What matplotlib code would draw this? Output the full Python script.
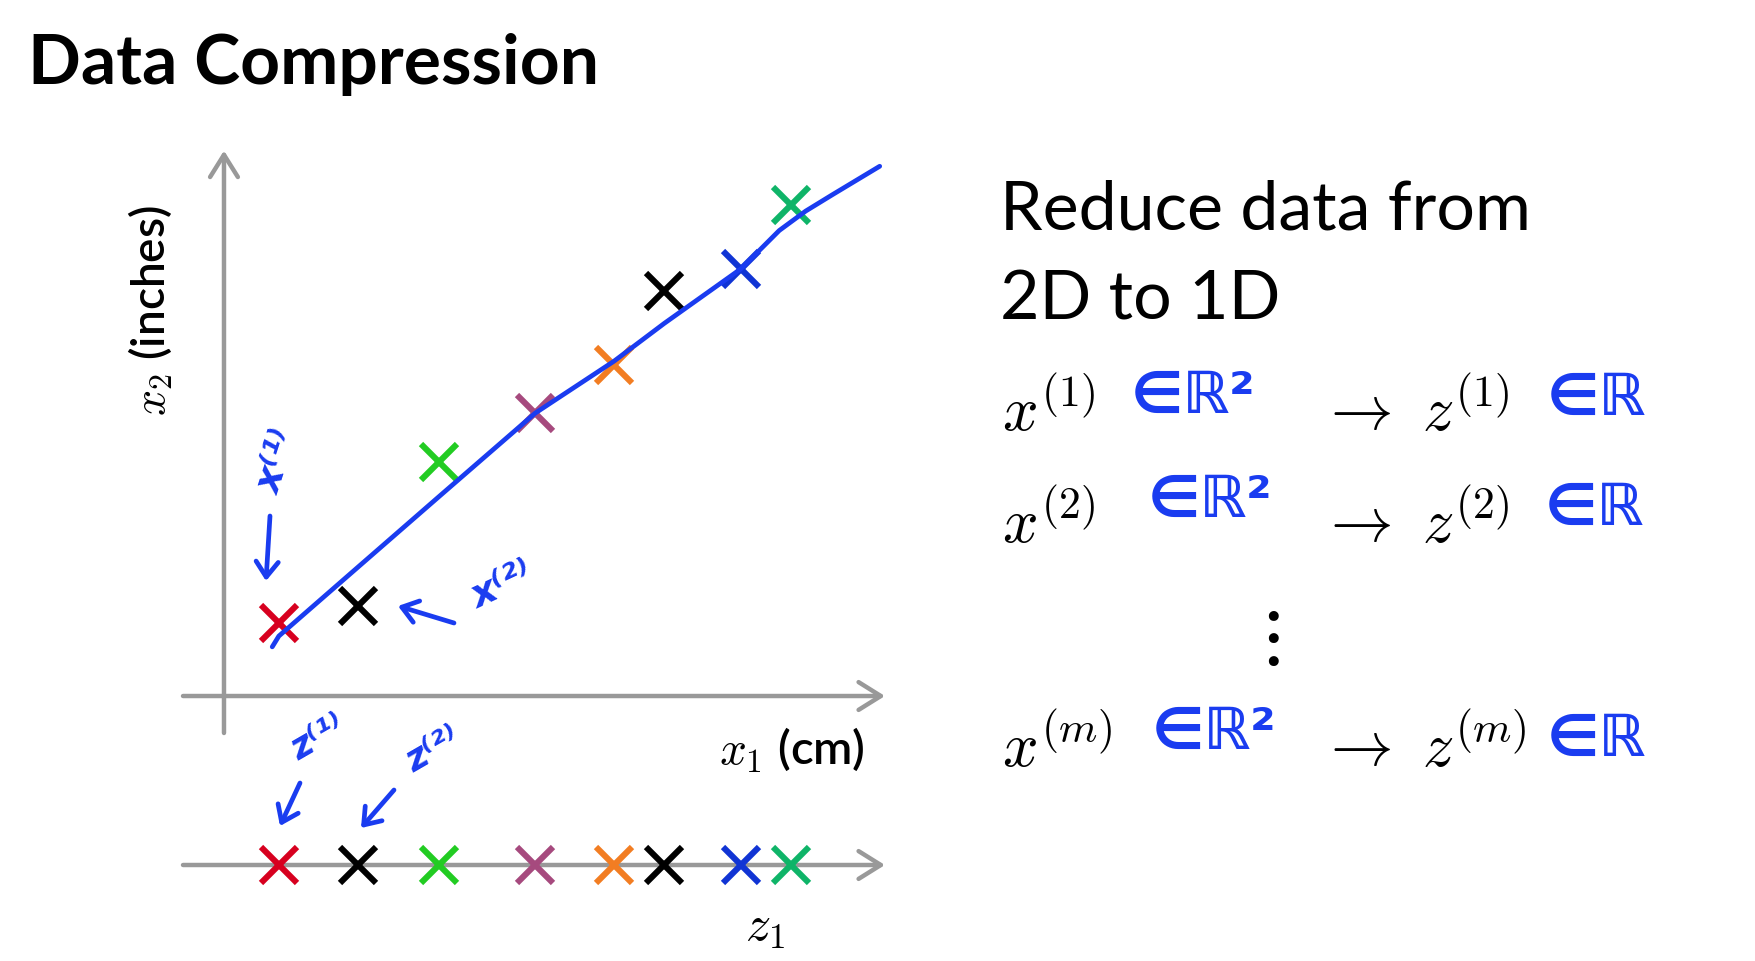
import matplotlib
matplotlib.use('Agg')
import matplotlib.pyplot as plt

plt.rcParams['mathtext.fontset'] = 'cm'

W, H = 1756, 962

# ---------------- data ----------------
x1 = [0.83, 2.03, 3.25, 4.71, 5.90, 6.66, 7.82, 8.58]
x2 = [1.35, 1.67, 4.33, 5.24, 6.13, 7.50, 7.91, 9.09]
z1 = [0.83, 2.03, 3.25, 4.71, 5.90, 6.66, 7.82, 8.58]
point_colors = ['#d7001f', '#000000', '#22cc22', '#a64a7e',
                '#f27d22', '#000000', '#1034d4', '#0fb468']
line_x1 = [0.73, 0.83, 2.03, 3.25, 4.71, 5.90, 6.66, 7.82, 8.40, 8.80, 9.20, 9.92]
line_x2 = [0.91, 1.11, 2.39, 3.69, 5.24, 6.20, 6.90, 7.91, 8.62, 8.98, 9.28, 9.81]

title = 'Data Compression'
side_title = ['Reduce data from', '2D to 1D']
rows_x = [r'$x^{(1)}$', r'$x^{(2)}$', r'$x^{(m)}$']
rows_z = [r'$\rightarrow\ z^{(1)}$', r'$\rightarrow\ z^{(2)}$', r'$\rightarrow\ z^{(m)}$']

BLUE = '#1a3cf0'
GRAY = '#999999'

fig = plt.figure(figsize=(W / 100, H / 100), dpi=100)
fig.patch.set_facecolor('white')


def fx(px):
    return px / W


def fy(py):
    return 1 - py / H


# ---------------- main 2D axes ----------------
ax = fig.add_axes([fx(183), fy(734), (885 - 183) / W, (734 - 157) / H])
ax.set_xlim(-0.62, 10)
ax.set_ylim(-0.685, 10)
ax.axis('off')

arrow_kw = dict(arrowstyle='->,head_length=0.8,head_width=0.5', color=GRAY,
                lw=3.2, shrinkA=0, shrinkB=0, mutation_scale=20)
ax.annotate('', xy=(10, 0), xytext=(-0.62, 0), arrowprops=arrow_kw,
            annotation_clip=False)
ax.annotate('', xy=(0, 10.1), xytext=(0, -0.685), arrowprops=arrow_kw,
            annotation_clip=False)

ax.plot(line_x1, line_x2, color=BLUE, lw=3.4, solid_capstyle='round',
        solid_joinstyle='round', zorder=3)
for xi, yi, c in zip(x1, x2, point_colors):
    ax.plot(xi, yi, marker='x', ms=26, mew=4.4, color=c, linestyle='none', zorder=2)

# ---------------- 1D z axis ----------------
axz = fig.add_axes([fx(183), fy(896), (885 - 183) / W, 60 / H])
axz.set_xlim(-0.62, 10)
axz.set_ylim(-1, 1)
axz.axis('off')
axz.annotate('', xy=(10, 0), xytext=(-0.62, 0), arrowprops=arrow_kw,
             annotation_clip=False)
for zi, c in zip(z1, point_colors):
    axz.plot(zi, 0, marker='x', ms=26, mew=4.4, color=c, linestyle='none', zorder=3)

# ---------------- texts ----------------
fig.text(fx(28), fy(84), title, fontsize=50, fontweight='bold', family='Lato',
         va='baseline', ha='left')

fig.text(fx(151), fy(311), r'$x_2$ (inches)', rotation=90, ha='center', va='center',
         fontsize=33, family='Lato', fontweight='semibold')
fig.text(fx(865), fy(750), r'$x_1$ (cm)', ha='right', va='center',
         fontsize=34, family='Lato', fontweight='semibold')
fig.text(fx(765), fy(927), r'$z_1$', ha='center', va='center', fontsize=36)

fig.text(fx(1000), fy(230), side_title[0], fontsize=49, family='Lato',
         va='baseline', ha='left')
fig.text(fx(1000), fy(319), side_title[1], fontsize=49, family='Lato',
         va='baseline', ha='left')

row_base = [431, 543, 767]
for rx, rz, b in zip(rows_x, rows_z, row_base):
    fig.text(fx(1002), fy(b), rx, fontsize=45, va='baseline', ha='left')
    fig.text(fx(1320), fy(b), rz, fontsize=45, va='baseline', ha='left')
fig.text(fx(1266), fy(636), r'$\vdots$', fontsize=56, va='center', ha='center')

# handwritten blue annotations
hw = dict(color=BLUE, fontweight='bold', family='DejaVu Sans')
for x, y, s in [(1131, 396, '∈ℝ²'), (1148, 500, '∈ℝ²'), (1152, 732, '∈ℝ²')]:
    fig.text(fx(x), fy(y), s, fontsize=42, va='center', ha='left', **hw)
for x, y, s in [(1547, 398, '∈ℝ'), (1545, 508, '∈ℝ'), (1547, 739, '∈ℝ')]:
    fig.text(fx(x), fy(y), s, fontsize=42, va='center', ha='left', **hw)

fig.text(fx(278), fy(462), 'x⁽¹⁾', rotation=72, fontsize=28, style='italic',
         va='center', ha='center', **hw)
fig.text(fx(502), fy(585), 'x⁽²⁾', rotation=25, fontsize=28, style='italic',
         va='center', ha='center', **hw)
fig.text(fx(318), fy(738), 'z⁽¹⁾', rotation=30, fontsize=26, style='italic',
         va='center', ha='center', **hw)
fig.text(fx(433), fy(750), 'z⁽²⁾', rotation=30, fontsize=26, style='italic',
         va='center', ha='center', **hw)

hw_arrow = dict(arrowstyle='->,head_length=0.55,head_width=0.4', color=BLUE, lw=3.4,
                shrinkA=0, shrinkB=0, mutation_scale=20)
for (x0, y0), (x1a, y1a) in [((270, 517), (266, 582)),
                              ((454, 624), (398, 607)),
                              ((300, 784), (280, 827)),
                              ((394, 791), (361, 829))]:
    fig.add_artist(matplotlib.patches.FancyArrowPatch(
        (fx(x0), fy(y0)), (fx(x1a), fy(y1a)), transform=fig.transFigure, **hw_arrow))

fig.savefig('out.png', dpi=100, facecolor='white')
